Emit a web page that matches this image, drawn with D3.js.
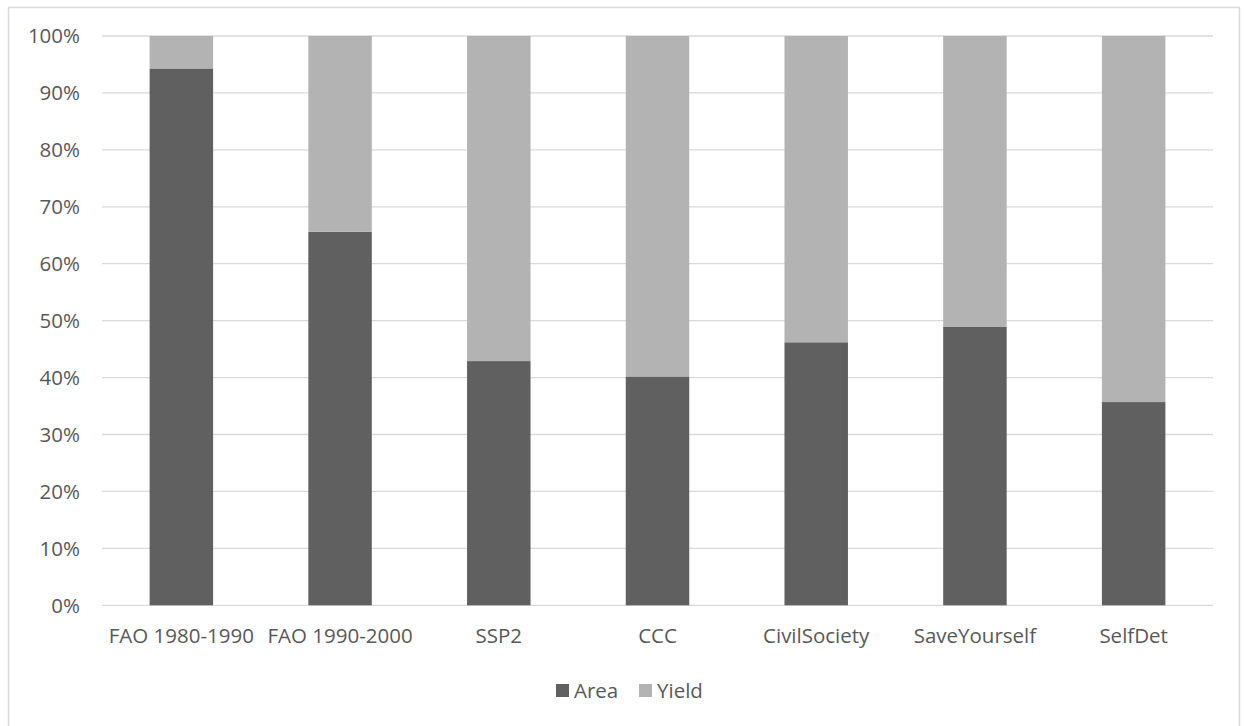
<!DOCTYPE html>
<html>
<head>
<meta charset="utf-8">
<script src="https://cdn.jsdelivr.net/npm/d3@7"></script>
<style>
  body { margin: 0; background: #fff; }
  svg { display: block; }
  svg text { font-family: "Open Sans", "Noto Sans", sans-serif; }
</style>
</head>
<body>
<div id="chart"></div>
<script>
// 数据
const categories = ['FAO 1980-1990', 'FAO 1990-2000', 'SSP2', 'CCC', 'CivilSociety', 'SaveYourself', 'SelfDet'];
const areaValues = [94.3, 65.6, 42.9, 40.2, 46.2, 48.9, 35.7];
const yieldValues = areaValues.map(v => 100 - v);
const seriesNames = ['Area', 'Yield'];
const yTicks = [0, 10, 20, 30, 40, 50, 60, 70, 80, 90, 100];

const width = 1244, height = 726;
const colors = { Area: '#606060', Yield: '#b3b3b3' };
const textColor = '#595959';
const fontFamily = '"Open Sans", "Noto Sans", sans-serif';
const fontSize = '20.5px';

const svg = d3.select('#chart').append('svg')
    .attr('width', width)
    .attr('height', height);

// 外框
svg.append('rect')
    .attr('x', 8.5).attr('y', 7.5)
    .attr('width', 1231).attr('height', 730)
    .attr('fill', '#fff')
    .attr('stroke', '#d9d9d9')
    .attr('stroke-width', 1.5);

const plot = { left: 102, right: 1213, top: 36, bottom: 605.3 };

const x = d3.scaleBand()
    .domain(categories)
    .range([plot.left, plot.right])
    .paddingInner(0.6)
    .paddingOuter(0.3);

const y = d3.scaleLinear()
    .domain([0, 100])
    .range([plot.bottom, plot.top]);

// 网格线
svg.append('g')
    .selectAll('line')
    .data(yTicks)
    .join('line')
    .attr('x1', plot.left).attr('x2', plot.right)
    .attr('y1', d => y(d)).attr('y2', d => y(d))
    .attr('stroke', '#d9d9d9')
    .attr('stroke-width', 1.3);

// Y轴标签
const yAxis = d3.axisLeft(y)
    .tickValues(yTicks)
    .tickFormat(d => d + '%')
    .tickSize(0)
    .tickPadding(22);

svg.append('g')
    .attr('transform', `translate(${plot.left},0)`)
    .call(yAxis)
    .attr('font-family', fontFamily)
    .attr('font-size', fontSize)
    .call(g => g.select('.domain').remove())
    .call(g => g.selectAll('text').attr('fill', textColor).attr('dy', '0.34em'));

// 堆叠数据
const rows = categories.map((c, i) => ({ category: c, Area: areaValues[i], Yield: yieldValues[i] }));
const stack = d3.stack().keys(seriesNames);
const stacked = stack(rows);

svg.append('g')
    .selectAll('g')
    .data(stacked)
    .join('g')
    .attr('fill', d => colors[d.key])
    .selectAll('rect')
    .data(d => d)
    .join('rect')
    .attr('x', d => x(d.data.category))
    .attr('width', x.bandwidth())
    .attr('y', d => y(d[1]))
    .attr('height', d => y(d[0]) - y(d[1]));

// X轴标签
const xAxis = d3.axisBottom(x).tickSize(0).tickPadding(23);
svg.append('g')
    .attr('transform', `translate(0,${plot.bottom})`)
    .call(xAxis)
    .attr('font-family', fontFamily)
    .attr('font-size', fontSize)
    .call(g => g.select('.domain').remove())
    .call(g => g.selectAll('text').attr('fill', textColor));

// 图例
const legend = svg.append('g').attr('transform', 'translate(556,684)');
const legendItems = legend.selectAll('g')
    .data(seriesNames)
    .join('g')
    .attr('transform', (d, i) => `translate(${i * 83},0)`);

legendItems.append('rect')
    .attr('width', 13).attr('height', 13)
    .attr('fill', d => colors[d]);

legendItems.append('text')
    .attr('x', 18)
    .attr('y', 6.5)
    .attr('dy', '0.36em')
    .attr('fill', textColor)
    .style('font-size', fontSize)
    .text(d => d);
</script>
</body>
</html>
